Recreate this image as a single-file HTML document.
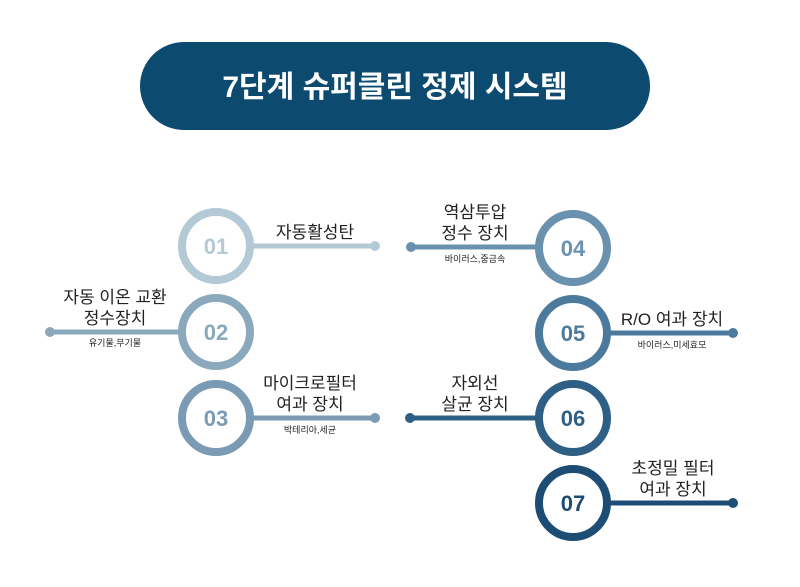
<!DOCTYPE html>
<html><head><meta charset="utf-8"><style>
body{margin:0;background:#fff;}
svg text{font-family:"Liberation Sans","Noto Sans CJK KR",sans-serif;}
</style></head><body>
<svg width="800" height="582" viewBox="0 0 800 582" xmlns="http://www.w3.org/2000/svg">
<rect x="140" y="42" width="510" height="88" rx="44" fill="#0d4a70"/>
<text x="395" y="97" text-anchor="middle" font-size="30" font-weight="bold" fill="#fff">7단계 슈퍼클린 정제 시스템</text>

<g font-size="17" fill="#222" text-anchor="middle">
<!-- 01 -->
<line x1="250" y1="246" x2="375" y2="246" stroke="#b3c9d6" stroke-width="5"/>
<circle cx="375" cy="246" r="5" fill="#b3c9d6"/>
<circle cx="216" cy="246" r="34" fill="#fff" stroke="#b3c9d6" stroke-width="8"/>
<text x="216" y="254" font-size="22" font-weight="bold" fill="#b3c9d6">01</text>
<text x="315" y="238">자동활성탄</text>
<!-- 02 -->
<line x1="50" y1="332" x2="182" y2="332" stroke="#8aa9bd" stroke-width="5"/>
<circle cx="50" cy="332" r="5" fill="#8aa9bd"/>
<circle cx="216" cy="332" r="34" fill="#fff" stroke="#8aa9bd" stroke-width="8"/>
<text x="216" y="340" font-size="22" font-weight="bold" fill="#8aa9bd">02</text>
<text x="115" y="303">자동 이온 교환</text>
<text x="115" y="324">정수장치</text>
<text x="115" y="346" font-size="9">유기물,무기물</text>
<!-- 03 -->
<line x1="250" y1="418" x2="375" y2="418" stroke="#7a9bb3" stroke-width="5"/>
<circle cx="375" cy="418" r="5" fill="#7a9bb3"/>
<circle cx="216" cy="418" r="34" fill="#fff" stroke="#7a9bb3" stroke-width="8"/>
<text x="216" y="426" font-size="22" font-weight="bold" fill="#7a9bb3">03</text>
<text x="310" y="389">마이크로필터</text>
<text x="310" y="410">여과 장치</text>
<text x="310" y="433" font-size="9">박테리아,세균</text>
<!-- 04 -->
<line x1="411" y1="247" x2="538" y2="247" stroke="#6a91ad" stroke-width="5"/>
<circle cx="411" cy="247" r="5" fill="#6a91ad"/>
<circle cx="573" cy="248" r="34" fill="#fff" stroke="#6a91ad" stroke-width="8"/>
<text x="573" y="256" font-size="22" font-weight="bold" fill="#6a91ad">04</text>
<text x="475" y="218">역삼투압</text>
<text x="475" y="239">정수 장치</text>
<text x="475" y="262" font-size="9">바이러스,중금속</text>
<!-- 05 -->
<line x1="607" y1="333" x2="733" y2="333" stroke="#4c7a9c" stroke-width="5"/>
<circle cx="733" cy="333" r="5" fill="#4c7a9c"/>
<circle cx="573" cy="333" r="34" fill="#fff" stroke="#4c7a9c" stroke-width="8"/>
<text x="573" y="341" font-size="22" font-weight="bold" fill="#4c7a9c">05</text>
<text x="672" y="325">R/O 여과 장치</text>
<text x="672" y="348" font-size="9">바이러스,미세효모</text>
<!-- 06 -->
<line x1="410" y1="418" x2="538" y2="418" stroke="#2e5f85" stroke-width="5"/>
<circle cx="410" cy="418" r="5" fill="#2e5f85"/>
<circle cx="573" cy="418" r="34" fill="#fff" stroke="#2e5f85" stroke-width="8"/>
<text x="573" y="426" font-size="22" font-weight="bold" fill="#2e5f85">06</text>
<text x="475" y="389">자외선</text>
<text x="475" y="410">살균 장치</text>
<!-- 07 -->
<line x1="607" y1="503" x2="733" y2="503" stroke="#1d4c74" stroke-width="5"/>
<circle cx="733" cy="503" r="5" fill="#1d4c74"/>
<circle cx="573" cy="503" r="34" fill="#fff" stroke="#1d4c74" stroke-width="8"/>
<text x="573" y="511" font-size="22" font-weight="bold" fill="#1d4c74">07</text>
<text x="673" y="474">초정밀 필터</text>
<text x="673" y="495">여과 장치</text>
</g>
</svg>
</body></html>
